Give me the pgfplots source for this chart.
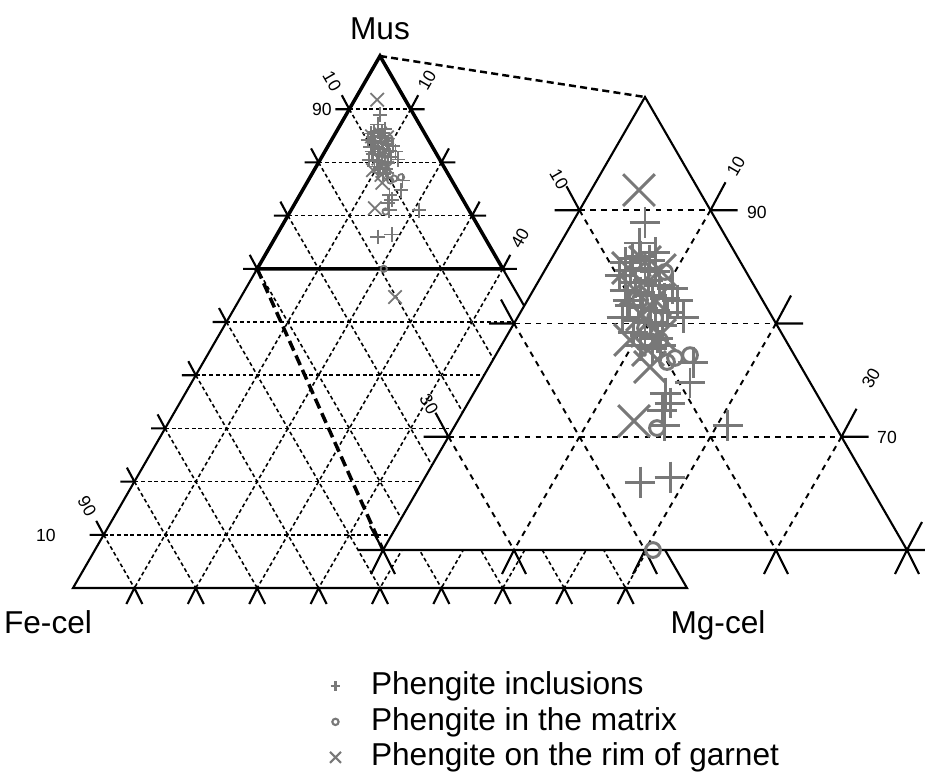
\documentclass[border=0pt]{standalone}
\usepackage{fontspec}
\setmainfont{Liberation Sans}
\usepackage{pgfplots}
\pgfplotsset{compat=1.18}
\usepackage{pgfplotstable}
\definecolor{mkgray}{RGB}{120,120,120}

% data: Fe-cel and Mg-cel in percent (Mus = 100 - fe - mg)
\pgfplotstableread{
fe mg
5.52 5.52
6.83 6.06
6.12 7.65
6.37 10.50
6.81 12.62
8.04 15.37
9.19 16.06
11.54 14.60
11.60 15.42
12.52 15.12
12.96 16.01
8.15 20.82
17.38 16.62
14.87 18.69
8.81 5.76
8.10 6.12
7.40 6.64
6.82 7.58
9.77 5.95
8.78 6.50
7.55 7.55
6.96 8.49
8.93 7.41
7.85 8.31
7.16 9.44
10.05 7.00
8.99 8.23
8.21 9.28
7.35 10.40
10.33 8.04
9.47 9.16
8.64 10.17
7.74 11.25
11.51 8.00
10.38 9.31
9.55 10.32
8.77 11.37
11.29 9.46
10.51 10.51
9.72 11.56
11.33 10.57
10.55 11.62
10.27 7.67
9.80 12.10
6.45 11.48
}\incl

\pgfplotstableread{
fe mg
4.57 3.65
8.85 6.25
7.28 7.28
6.50 8.78
9.29 7.76
8.20 9.73
9.86 9.39
11.87 9.58
9.36 11.65
10.94 11.40
11.54 12.30
15.14 13.47
}\rim

\pgfplotstableread{
fe mg
20.2 25.1
}\rimlow

\pgfplotstableread{
fe mg
6.20 9.25
9.34 8.58
8.99 10.52
10.20 10.20
10.02 13.38
9.23 13.81
7.96 14.83
13.70 15.53
19.39 20.61
9.59 11.88
}\matrixph

\tikzset{
  mgrid/.style={line width=0.45pt, dash pattern=on 1.1pt off 0.8pt},
  igrid/.style={line width=0.55pt, dash pattern=on 1.6pt off 1.5pt},
  tk/.style={line width=0.6pt},
  itk/.style={line width=0.6pt},
  tl/.style={font=\fontsize{5}{6}\selectfont, inner sep=0pt},
}

\begin{document}
\begin{tikzpicture}
\begin{axis}[
  name=ax,
  scale only axis, width=9.25cm, height=7.83cm,
  xmin=0, xmax=925, ymin=0, ymax=783, y dir=reverse,
  hide axis, clip=false,
  legend cell align=left,
  legend style={at={(axis description cs:0.356,0.147)}, anchor=north west,
    draw=none, fill=none, inner sep=0pt,
    font=\fontsize{9}{11}\selectfont,
    nodes={inner sep=0.6pt, text height=6.8pt, text depth=2.1pt},
    /tikz/every odd column/.append style={column sep=0.28cm}},
]
\path (axis cs:0,0) rectangle (axis cs:925,783);

% ---------- main triangle grid ----------
\pgfplotsinvokeforeach{1,...,9}{
  \draw[mgrid] (axis cs:{73+30.7*#1},{588-53.2*#1}) -- (axis cs:{687-30.7*#1},{588-53.2*#1});
  \draw[mgrid] (axis cs:{73+30.7*#1},{588-53.2*#1}) -- (axis cs:{73+61.4*#1},588);
  \draw[mgrid] (axis cs:{687-30.7*#1},{588-53.2*#1}) -- (axis cs:{687-61.4*#1},588);
  \draw[tk] (axis cs:{73+30.7*#1-14},{588-53.2*#1}) -- (axis cs:{73+30.7*#1},{588-53.2*#1}) -- (axis cs:{73+30.7*#1-7.5},{588-53.2*#1-14});
  \draw[tk] (axis cs:{687-30.7*#1+14},{588-53.2*#1}) -- (axis cs:{687-30.7*#1},{588-53.2*#1}) -- (axis cs:{687-30.7*#1+7.5},{588-53.2*#1-14});
  \draw[tk] (axis cs:{73+61.4*#1-8},604) -- (axis cs:{73+61.4*#1},588) -- (axis cs:{73+61.4*#1+8},604);
}
\draw[line width=0.6pt] (axis cs:73,588) -- (axis cs:687,588) -- (axis cs:380,56) -- cycle;
\draw[line width=1pt] (axis cs:257.2,268.8) -- (axis cs:380,56) -- (axis cs:502.8,268.8) -- cycle;

% connectors to the enlarged part
\draw[line width=0.7pt, dash pattern=on 2pt off 1.2pt] (axis cs:380,56) -- (axis cs:645,97);
\draw[line width=1pt, dash pattern=on 3pt off 1.5pt] (axis cs:257.2,268.8) -- (axis cs:383,550);

% ---------- main triangle data ----------
\addplot[only marks, mark=+, mark size=2.1pt, draw=mkgray, line width=0.5pt, forget plot]
  table[x expr={380+3.07*(\thisrow{mg}-\thisrow{fe})}, y expr={56+5.32*(\thisrow{fe}+\thisrow{mg})}] {\incl};
\addplot[only marks, mark=o, mark size=0.9pt, draw=mkgray, line width=0.5pt, forget plot]
  table[x expr={380+3.07*(\thisrow{mg}-\thisrow{fe})}, y expr={56+5.32*(\thisrow{fe}+\thisrow{mg})}] {\matrixph};
\addplot[only marks, mark=x, mark size=2.7pt, draw=mkgray, line width=0.5pt, forget plot]
  table[x expr={380+3.07*(\thisrow{mg}-\thisrow{fe})}, y expr={56+5.32*(\thisrow{fe}+\thisrow{mg})}] {\rim};
\addplot[only marks, mark=x, mark size=2.7pt, draw=mkgray, line width=0.5pt, forget plot]
  table[x expr={380+3.07*(\thisrow{mg}-\thisrow{fe})}, y expr={56+5.32*(\thisrow{fe}+\thisrow{mg})}] {\rimlow};

% ---------- enlarged triangle ----------
\fill[white] (axis cs:645,97) -- (axis cs:383,550) -- (axis cs:907,550) -- cycle;
\pgfplotsinvokeforeach{1,2,3}{
  \draw[igrid] (axis cs:{383+65.5*#1},{550-113.25*#1}) -- (axis cs:{907-65.5*#1},{550-113.25*#1});
  \draw[igrid] (axis cs:{383+65.5*#1},{550-113.25*#1}) -- (axis cs:{383+131*#1},550);
  \draw[igrid] (axis cs:{907-65.5*#1},{550-113.25*#1}) -- (axis cs:{907-131*#1},550);
}
\pgfplotsinvokeforeach{0,1,2,3}{
  \draw[itk] (axis cs:{383+65.5*#1-25},{550-113.25*#1}) -- (axis cs:{383+65.5*#1},{550-113.25*#1}) -- (axis cs:{383+65.5*#1-13},{550-113.25*#1-24});
  \draw[itk] (axis cs:{907-65.5*#1+27},{550-113.25*#1}) -- (axis cs:{907-65.5*#1},{550-113.25*#1}) -- (axis cs:{907-65.5*#1+15},{550-113.25*#1-28});
}
\pgfplotsinvokeforeach{0,1,2,3,4}{
  \draw[itk] (axis cs:{383+131*#1-12},574) -- (axis cs:{383+131*#1},550) -- (axis cs:{383+131*#1+12},574);
}
\draw[line width=0.6pt] (axis cs:645,97) -- (axis cs:383,550) -- (axis cs:907,550) -- cycle;

% ---------- enlarged data ----------
\addplot[only marks, mark=+, mark size=4.4pt, draw=mkgray, line width=0.85pt, forget plot]
  table[x expr={645+6.55*(\thisrow{mg}-\thisrow{fe})}, y expr={97+11.325*(\thisrow{fe}+\thisrow{mg})}] {\incl};
\addplot[only marks, mark=o, mark size=2.1pt, draw=mkgray, line width=0.85pt, forget plot]
  table[x expr={645+6.55*(\thisrow{mg}-\thisrow{fe})}, y expr={97+11.325*(\thisrow{fe}+\thisrow{mg})}] {\matrixph};
\addplot[only marks, mark=x, mark size=6.4pt, draw=mkgray, line width=0.85pt, forget plot]
  table[x expr={645+6.55*(\thisrow{mg}-\thisrow{fe})}, y expr={97+11.325*(\thisrow{fe}+\thisrow{mg})}] {\rim};

% ---------- labels ----------
\node[font=\fontsize{9}{11}\selectfont, anchor=base, inner sep=0pt] at (axis cs:380,39) {Mus};
\node[font=\fontsize{9}{11}\selectfont, anchor=base, inner sep=0pt] at (axis cs:48,633) {Fe-cel};
\node[font=\fontsize{9}{11}\selectfont, anchor=base, inner sep=0pt] at (axis cs:718,633) {Mg-cel};

\node[tl] at (axis cs:322,109) {90};
\node[tl, rotate=-60] at (axis cs:332,81) {10};
\node[tl, rotate=60] at (axis cs:427,80) {10};
\node[tl, rotate=60] at (axis cs:520,238) {40};
\node[tl] at (axis cs:46,535) {10};
\node[tl, rotate=-60] at (axis cs:87,506) {90};

\node[tl, rotate=-60] at (axis cs:559,179) {10};
\node[tl, rotate=-60] at (axis cs:429,404) {30};
\node[tl, rotate=60] at (axis cs:736,166) {10};
\node[tl] at (axis cs:757,212) {90};
\node[tl, rotate=60] at (axis cs:871,378) {30};
\node[tl] at (axis cs:887,437) {70};

% ---------- legend ----------
\addlegendimage{only marks, mark=+, mark size=1.4pt, draw=mkgray, line width=0.6pt}
\addlegendentry{Phengite inclusions}
\addlegendimage{only marks, mark=o, mark size=0.9pt, draw=mkgray, line width=0.6pt}
\addlegendentry{Phengite in the matrix}
\addlegendimage{only marks, mark=x, mark size=2.2pt, draw=mkgray, line width=0.6pt}
\addlegendentry{Phengite on the rim of garnet}
\end{axis}
\pgfresetboundingbox
\useasboundingbox (ax.south west) rectangle (ax.north east);
\end{tikzpicture}
\end{document}
